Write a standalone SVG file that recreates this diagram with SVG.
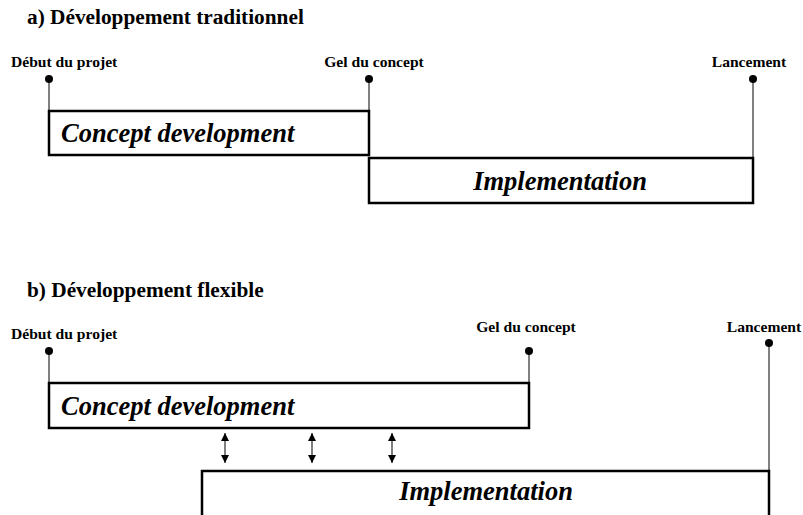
<svg xmlns="http://www.w3.org/2000/svg" width="803" height="515" viewBox="0 0 803 515">
<style>
.title{font-family:"Liberation Serif",serif;font-weight:bold;font-size:21.3px;fill:#000}
.ms{font-family:"Liberation Serif",serif;font-weight:bold;font-size:15.6px;fill:#000}
.box{fill:#fff;stroke:#000;stroke-width:2.5}
.bt{font-family:"Liberation Serif",serif;font-weight:bold;font-style:italic;font-size:26.5px;fill:#000}
.ln{stroke:#000;stroke-width:1;fill:none}
.dot{fill:#000}
</style>
<defs>
<marker id="ah" viewBox="0 0 10 10" refX="10" refY="5" markerWidth="8" markerHeight="8" markerUnits="userSpaceOnUse" orient="auto-start-reverse">
<path d="M0,0 L10,5 L0,10 z" fill="#000"/>
</marker>
</defs>
<rect width="803" height="515" fill="#fff"/>
<text class="title" x="27" y="24">a) Développement traditionnel</text>
<text class="title" x="27" y="297">b) Développement flexible</text>

<g id="connectors">
<line class="ln" x1="49" y1="79" x2="49" y2="111"/>
<line class="ln" x1="369" y1="79" x2="369" y2="111"/>
<line class="ln" x1="753" y1="79" x2="753" y2="158"/>
<line class="ln" x1="49" y1="351" x2="49" y2="383"/>
<line class="ln" x1="529" y1="351" x2="529" y2="383"/>
<line class="ln" x1="769" y1="343" x2="769" y2="471"/>
<line class="ln" x1="225" y1="433" x2="225" y2="463" marker-start="url(#ah)" marker-end="url(#ah)"/>
<line class="ln" x1="312" y1="433" x2="312" y2="463" marker-start="url(#ah)" marker-end="url(#ah)"/>
<line class="ln" x1="392" y1="433" x2="392" y2="463" marker-start="url(#ah)" marker-end="url(#ah)"/>
</g>

<g id="a-debut">
<circle class="dot" cx="49" cy="79" r="4"/>
<text class="ms" x="11" y="67">Début du projet</text>
</g>
<g id="a-gel">
<circle class="dot" cx="369" cy="79" r="4"/>
<text class="ms" x="374" y="67" text-anchor="middle">Gel du concept</text>
</g>
<g id="a-lancement">
<circle class="dot" cx="753" cy="79" r="4"/>
<text class="ms" x="749" y="67" text-anchor="middle">Lancement</text>
</g>
<g id="a-concept">
<rect class="box" x="49" y="111" width="320" height="44"/>
<text class="bt" x="61" y="142">Concept development</text>
</g>
<g id="a-impl">
<rect class="box" x="369" y="158" width="384" height="45"/>
<text class="bt" x="560" y="190" text-anchor="middle">Implementation</text>
</g>

<g id="b-debut">
<circle class="dot" cx="49" cy="351" r="4"/>
<text class="ms" x="11" y="339">Début du projet</text>
</g>
<g id="b-gel">
<circle class="dot" cx="529" cy="351" r="4"/>
<text class="ms" x="526" y="332" text-anchor="middle">Gel du concept</text>
</g>
<g id="b-lancement">
<circle class="dot" cx="769" cy="343" r="4"/>
<text class="ms" x="764" y="332" text-anchor="middle">Lancement</text>
</g>
<g id="b-concept">
<rect class="box" x="49" y="383" width="480" height="45"/>
<text class="bt" x="61" y="415">Concept development</text>
</g>
<g id="b-impl">
<rect class="box" x="202" y="471" width="567" height="60"/>
<text class="bt" x="486" y="500" text-anchor="middle">Implementation</text>
</g>
</svg>
